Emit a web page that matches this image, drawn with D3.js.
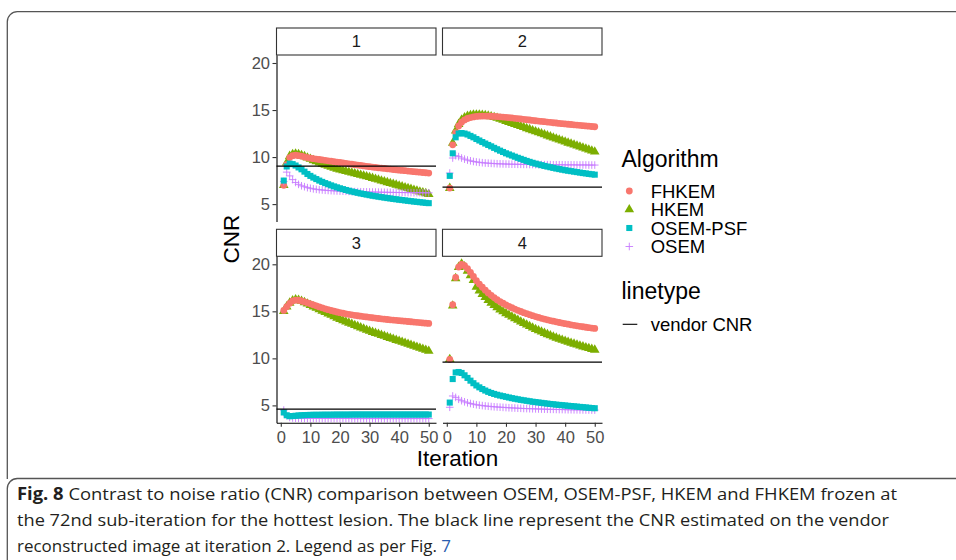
<!DOCTYPE html>
<html><head><meta charset="utf-8">
<script src="https://cdn.jsdelivr.net/npm/d3@7"></script>
<style>body{margin:0;background:#fff} svg{display:block}</style>
</head><body>
<svg id="chart" width="956" height="560"></svg>
<script>
// ---------------- DATA ----------------
const panels = ["1", "2", "3", "4"];
const algorithms = ["FHKEM", "HKEM", "OSEM-PSF", "OSEM"];
const iterations = [1,2,3,4,5,6,7,8,9,10,11,12,13,14,15,16,17,18,19,20,21,22,23,24,25,26,27,28,29,30,31,32,33,34,35,36,37,38,39,40,41,42,43,44,45,46,47,48,49,50];
const xTicks = [0, 10, 20, 30, 40, 50];
const yTicks = [5, 10, 15, 20];
const vendorCNR = [9.04, 6.8, 4.6, 9.6];

// panel 1
const fhkem_1 = [7.0,9.2,9.95,10.15,10.2,10.15,10.1,10.02,9.95,9.88,9.83,9.79,9.74,9.7,9.65,9.6,9.56,9.51,9.46,9.42,9.37,9.33,9.28,9.24,9.19,9.15,9.11,9.06,9.02,8.98,8.94,8.9,8.86,8.83,8.79,8.75,8.72,8.68,8.65,8.61,8.58,8.55,8.51,8.48,8.45,8.42,8.39,8.36,8.33,8.3];
const hkem_1 = [7.0,9.4,10.1,10.3,10.35,10.3,10.2,10.07,9.93,9.79,9.65,9.52,9.39,9.27,9.15,9.04,8.94,8.84,8.74,8.65,8.57,8.49,8.41,8.33,8.25,8.17,8.09,8.01,7.93,7.85,7.76,7.67,7.58,7.49,7.4,7.31,7.22,7.13,7.04,6.95,6.86,6.77,6.68,6.59,6.5,6.41,6.32,6.23,6.14,6.05];
const osempsf_1 = [7.5,9.0,9.3,9.25,9.1,8.9,8.7,8.45,8.2,8.0,7.82,7.66,7.5,7.36,7.23,7.11,6.99,6.88,6.78,6.68,6.59,6.5,6.42,6.34,6.27,6.2,6.13,6.07,6.01,5.95,5.89,5.84,5.79,5.74,5.69,5.64,5.6,5.55,5.51,5.47,5.43,5.39,5.35,5.31,5.27,5.24,5.2,5.17,5.13,5.1];
const osem_1 = [7.4,8.4,8.0,7.6,7.3,7.1,6.95,6.85,6.75,6.68,6.62,6.57,6.53,6.5,6.47,6.45,6.43,6.41,6.4,6.38,6.37,6.36,6.35,6.34,6.33,6.32,6.31,6.3,6.3,6.29,6.28,6.28,6.27,6.26,6.26,6.25,6.25,6.24,6.24,6.23,6.23,6.22,6.22,6.22,6.21,6.21,6.21,6.2,6.2,6.2];
// panel 2
const fhkem_2 = [6.7,11.3,12.6,13.3,13.7,13.95,14.1,14.2,14.27,14.32,14.35,14.36,14.36,14.35,14.34,14.32,14.3,14.28,14.25,14.22,14.19,14.16,14.12,14.09,14.05,14.01,13.97,13.94,13.9,13.86,13.83,13.79,13.76,13.72,13.69,13.65,13.62,13.58,13.55,13.52,13.49,13.46,13.43,13.4,13.37,13.34,13.31,13.28,13.25,13.22];
const hkem_2 = [6.7,11.5,12.8,13.5,13.95,14.2,14.35,14.44,14.49,14.5,14.5,14.47,14.43,14.38,14.32,14.24,14.15,14.05,13.94,13.82,13.71,13.6,13.49,13.38,13.27,13.16,13.05,12.94,12.83,12.72,12.61,12.5,12.39,12.28,12.17,12.06,11.95,11.84,11.73,11.62,11.51,11.41,11.3,11.2,11.09,10.98,10.88,10.77,10.67,10.56];
const osempsf_2 = [8.0,10.4,12.1,12.5,12.55,12.5,12.4,12.25,12.1,11.92,11.76,11.6,11.44,11.29,11.14,10.98,10.83,10.68,10.54,10.4,10.28,10.16,10.04,9.92,9.81,9.7,9.59,9.49,9.39,9.3,9.22,9.14,9.06,8.99,8.92,8.85,8.78,8.72,8.66,8.6,8.55,8.5,8.45,8.4,8.35,8.3,8.26,8.21,8.17,8.13];
const osem_2 = [8.3,9.9,10.15,10.05,9.9,9.78,9.68,9.6,9.53,9.48,9.44,9.4,9.37,9.35,9.33,9.31,9.29,9.28,9.27,9.26,9.25,9.24,9.24,9.23,9.23,9.22,9.22,9.21,9.21,9.2,9.2,9.2,9.19,9.19,9.19,9.18,9.18,9.18,9.18,9.17,9.17,9.17,9.17,9.16,9.16,9.16,9.16,9.15,9.15,9.15];
// panel 3
const fhkem_3 = [15.1,15.5,15.85,16.1,16.2,16.18,16.1,16.0,15.9,15.8,15.69,15.58,15.47,15.37,15.27,15.18,15.09,15.01,14.93,14.86,14.8,14.74,14.68,14.63,14.58,14.53,14.48,14.44,14.4,14.36,14.32,14.28,14.24,14.2,14.17,14.13,14.1,14.07,14.04,14.01,13.98,13.95,13.92,13.89,13.86,13.83,13.8,13.77,13.74,13.71];
const hkem_3 = [15.0,15.5,15.9,16.15,16.25,16.2,16.1,15.95,15.8,15.65,15.5,15.35,15.2,15.05,14.9,14.75,14.6,14.45,14.3,14.16,14.03,13.9,13.77,13.65,13.52,13.4,13.27,13.15,13.02,12.9,12.79,12.68,12.58,12.47,12.37,12.26,12.15,12.05,11.94,11.84,11.73,11.63,11.52,11.42,11.31,11.2,11.1,10.99,10.89,10.78];
const osempsf_3 = [4.25,3.95,3.85,3.87,3.9,3.93,3.95,3.97,3.98,3.99,4.0,4.0,4.0,4.01,4.01,4.01,4.01,4.02,4.02,4.02,4.02,4.02,4.02,4.03,4.03,4.03,4.03,4.03,4.03,4.03,4.03,4.03,4.03,4.03,4.03,4.03,4.03,4.03,4.03,4.03,4.03,4.03,4.03,4.03,4.03,4.03,4.03,4.03,4.03,4.03];
const osem_3 = [4.5,3.9,3.72,3.66,3.64,3.63,3.63,3.62,3.62,3.62,3.62,3.62,3.61,3.61,3.61,3.61,3.61,3.61,3.61,3.61,3.61,3.61,3.61,3.6,3.6,3.6,3.6,3.6,3.6,3.6,3.6,3.6,3.6,3.6,3.6,3.6,3.6,3.6,3.6,3.6,3.6,3.6,3.6,3.6,3.6,3.6,3.6,3.6,3.6,3.6];
// panel 4
const fhkem_4 = [9.9,15.7,18.6,19.7,20.0,19.85,19.55,19.15,18.7,18.25,17.9,17.56,17.25,16.96,16.7,16.46,16.24,16.04,15.86,15.69,15.53,15.38,15.24,15.11,14.98,14.86,14.75,14.64,14.54,14.44,14.35,14.26,14.18,14.1,14.02,13.95,13.88,13.81,13.75,13.69,13.63,13.57,13.51,13.46,13.41,13.36,13.31,13.26,13.22,13.18];
const hkem_4 = [9.9,15.6,18.5,19.7,20.05,19.75,19.3,18.8,18.3,17.6,17.2,16.83,16.49,16.18,15.9,15.64,15.4,15.18,14.98,14.78,14.6,14.42,14.24,14.07,13.9,13.73,13.57,13.41,13.25,13.1,12.96,12.82,12.68,12.55,12.42,12.3,12.18,12.06,11.95,11.84,11.74,11.64,11.54,11.44,11.34,11.25,11.16,11.07,10.98,10.9];
const osempsf_4 = [5.3,7.8,8.5,8.55,8.45,8.2,7.92,7.63,7.36,7.12,6.92,6.74,6.58,6.44,6.32,6.22,6.13,6.05,5.98,5.91,5.84,5.77,5.71,5.65,5.59,5.54,5.49,5.44,5.39,5.35,5.31,5.27,5.23,5.19,5.15,5.12,5.08,5.05,5.02,4.99,4.96,4.93,4.9,4.87,4.84,4.81,4.78,4.75,4.72,4.7];
const osem_4 = [4.8,6.0,5.85,5.65,5.5,5.38,5.28,5.2,5.13,5.07,5.02,4.98,4.94,4.91,4.88,4.85,4.83,4.81,4.79,4.77,4.75,4.73,4.72,4.7,4.69,4.67,4.66,4.65,4.64,4.63,4.62,4.61,4.6,4.59,4.58,4.58,4.57,4.56,4.56,4.55,4.54,4.54,4.53,4.53,4.52,4.52,4.51,4.51,4.5,4.5];

const captionLines = [
  ["Fig. 8", "Contrast to noise ratio (CNR) comparison between OSEM, OSEM-PSF, HKEM and FHKEM frozen at"],
  ["", "the 72nd sub-iteration for the hottest lesion. The black line represent the CNR estimated on the vendor"],
  ["", "reconstructed image at iteration 2. Legend as per Fig. ", "7"]
];

// ---------------- TABLE ----------------
const seriesByPanel = [
  {"FHKEM": fhkem_1, "HKEM": hkem_1, "OSEM-PSF": osempsf_1, "OSEM": osem_1},
  {"FHKEM": fhkem_2, "HKEM": hkem_2, "OSEM-PSF": osempsf_2, "OSEM": osem_2},
  {"FHKEM": fhkem_3, "HKEM": hkem_3, "OSEM-PSF": osempsf_3, "OSEM": osem_3},
  {"FHKEM": fhkem_4, "HKEM": hkem_4, "OSEM-PSF": osempsf_4, "OSEM": osem_4}
];

// ---------------- DRAW ----------------
const svg = d3.select("#chart");
const FONT = "'Liberation Sans', Arial, Helvetica, sans-serif";
const colors = {"FHKEM": "#F8766D", "HKEM": "#7CAE00", "OSEM-PSF": "#00BFC4", "OSEM": "#C77CFF"};
const drawOrder = ["HKEM", "FHKEM", "OSEM", "OSEM-PSF"];

// frames
svg.append("path").attr("d", "M956,11.7 H17.3 A10,10 0 0 0 7.3,21.7 V479")
  .attr("fill", "none").attr("stroke", "#555").attr("stroke-width", 1.3);
svg.append("path").attr("d", "M956,478.5 H17.3 A10,10 0 0 0 7.3,488.5 V560")
  .attr("fill", "none").attr("stroke", "#555").attr("stroke-width", 1.3);

const colX = [276.5, 442.5], panelW = 159.5;
const stripTop = [28, 229.3], stripH = 27, panelH = 166.5;
const x = d3.scaleLinear().domain([-1.45, 52.45]).range([0, panelW]);
const y = d3.scaleLinear().domain([3.15, 20.85]).range([panelH, 0]);

const triangle = d3.symbol().type(d3.symbolTriangle).size(40);
const square = d3.symbol().type(d3.symbolSquare).size(37);

function drawMarker(sel, algo, cx, cy) {
  const c = colors[algo];
  if (algo === "FHKEM") {
    sel.append("circle").attr("cx", cx).attr("cy", cy).attr("r", 3.4).attr("fill", c);
  } else if (algo === "HKEM") {
    sel.append("path").attr("d", triangle()).attr("transform", `translate(${cx},${cy})`).attr("fill", c);
  } else if (algo === "OSEM-PSF") {
    sel.append("path").attr("d", square()).attr("transform", `translate(${cx},${cy})`).attr("fill", c);
  } else {
    const a = 3.8;
    sel.append("path").attr("d", `M${cx - a},${cy}H${cx + a}M${cx},${cy - a}V${cy + a}`)
      .attr("stroke", c).attr("stroke-width", 0.9).attr("fill", "none");
  }
}

panels.forEach((p, i) => {
  const col = i % 2, row = Math.floor(i / 2);
  const g = svg.append("g").attr("transform", `translate(${colX[col]},${stripTop[row] + stripH})`);
  // strip
  g.append("rect").attr("x", 0).attr("y", -stripH).attr("width", panelW).attr("height", stripH)
    .attr("fill", "#fff").attr("stroke", "#333").attr("stroke-width", 1.1);
  g.append("text").attr("x", panelW / 2).attr("y", -stripH / 2).attr("dy", "0.36em")
    .attr("text-anchor", "middle").attr("font-family", FONT).attr("font-size", 16.5)
    .attr("fill", "#1A1A1A").text(p);

  // points
  drawOrder.forEach(algo => {
    const vals = seriesByPanel[i][algo];
    const sg = g.append("g");
    vals.forEach((v, k) => drawMarker(sg, algo, x(iterations[k]), y(v)));
  });

  // vendor line
  g.append("line").attr("x1", 0).attr("x2", panelW).attr("y1", y(vendorCNR[i])).attr("y2", y(vendorCNR[i]))
    .attr("stroke", "#000").attr("stroke-width", 1.1);

  // axes
  if (col === 0) {
    const ay = g.append("g").call(d3.axisLeft(y).tickValues(yTicks).tickSize(4).tickPadding(2.5).tickSizeOuter(0));
    styleAxis(ay);
  }
  if (row === 1) {
    const ax = g.append("g").attr("transform", `translate(0,${panelH})`)
      .call(d3.axisBottom(x).tickValues(xTicks).tickSize(4).tickPadding(4.5).tickSizeOuter(0));
    styleAxis(ax);
  }
});

function styleAxis(a) {
  a.select(".domain").attr("stroke", "#000").attr("stroke-width", 1.1);
  a.selectAll(".tick line").attr("stroke", "#333").attr("stroke-width", 1.1);
  a.selectAll(".tick text").attr("font-family", FONT).attr("font-size", 16.5).attr("fill", "#4D4D4D");
}

// axis titles
svg.append("text").attr("transform", "translate(238.5,239) rotate(-90)")
  .attr("text-anchor", "middle").attr("font-family", FONT).attr("font-size", 22.5).attr("fill", "#000").text("CNR");
svg.append("text").attr("x", 457.5).attr("y", 466)
  .attr("text-anchor", "middle").attr("font-family", FONT).attr("font-size", 22.5).attr("fill", "#000").text("Iteration");

// legend
const lg = svg.append("g");
lg.append("text").attr("x", 621.5).attr("y", 167).attr("font-family", FONT).attr("font-size", 23).text("Algorithm");
const itemY = [191, 209.5, 228, 246.5];
algorithms.forEach((a, k) => {
  drawMarker(lg, a, 629.3, itemY[k]);
  lg.append("text").attr("x", 650.7).attr("y", itemY[k]).attr("dy", "0.36em")
    .attr("font-family", FONT).attr("font-size", 18.5).text(a);
});
lg.append("text").attr("x", 621.5).attr("y", 298.5).attr("font-family", FONT).attr("font-size", 23).text("linetype");
lg.append("line").attr("x1", 622.7).attr("x2", 637.3).attr("y1", 324.3).attr("y2", 324.3)
  .attr("stroke", "#000").attr("stroke-width", 1.1);
lg.append("text").attr("x", 650.7).attr("y", 324.3).attr("dy", "0.36em")
  .attr("font-family", FONT).attr("font-size", 18.5).text("vendor CNR");

// caption
const capBase = [500, 526, 552];
const capLen = [880, 872, 434];
const CFONT = "'Open Sans', 'Noto Sans', sans-serif";
captionLines.forEach((ln, k) => {
  const t = svg.append("text").attr("x", 17).attr("y", capBase[k])
    .attr("font-family", CFONT).attr("font-size", 17).attr("fill", "#231F20")
    .attr("textLength", capLen[k]).attr("lengthAdjust", "spacingAndGlyphs");
  if (ln[0]) t.append("tspan").attr("font-weight", "bold").text(ln[0] + "  ");
  t.append("tspan").text(ln[1]);
  if (ln[2]) t.append("tspan").attr("fill", "#2A5DB0").text(ln[2]);
});
</script>
</body></html>
